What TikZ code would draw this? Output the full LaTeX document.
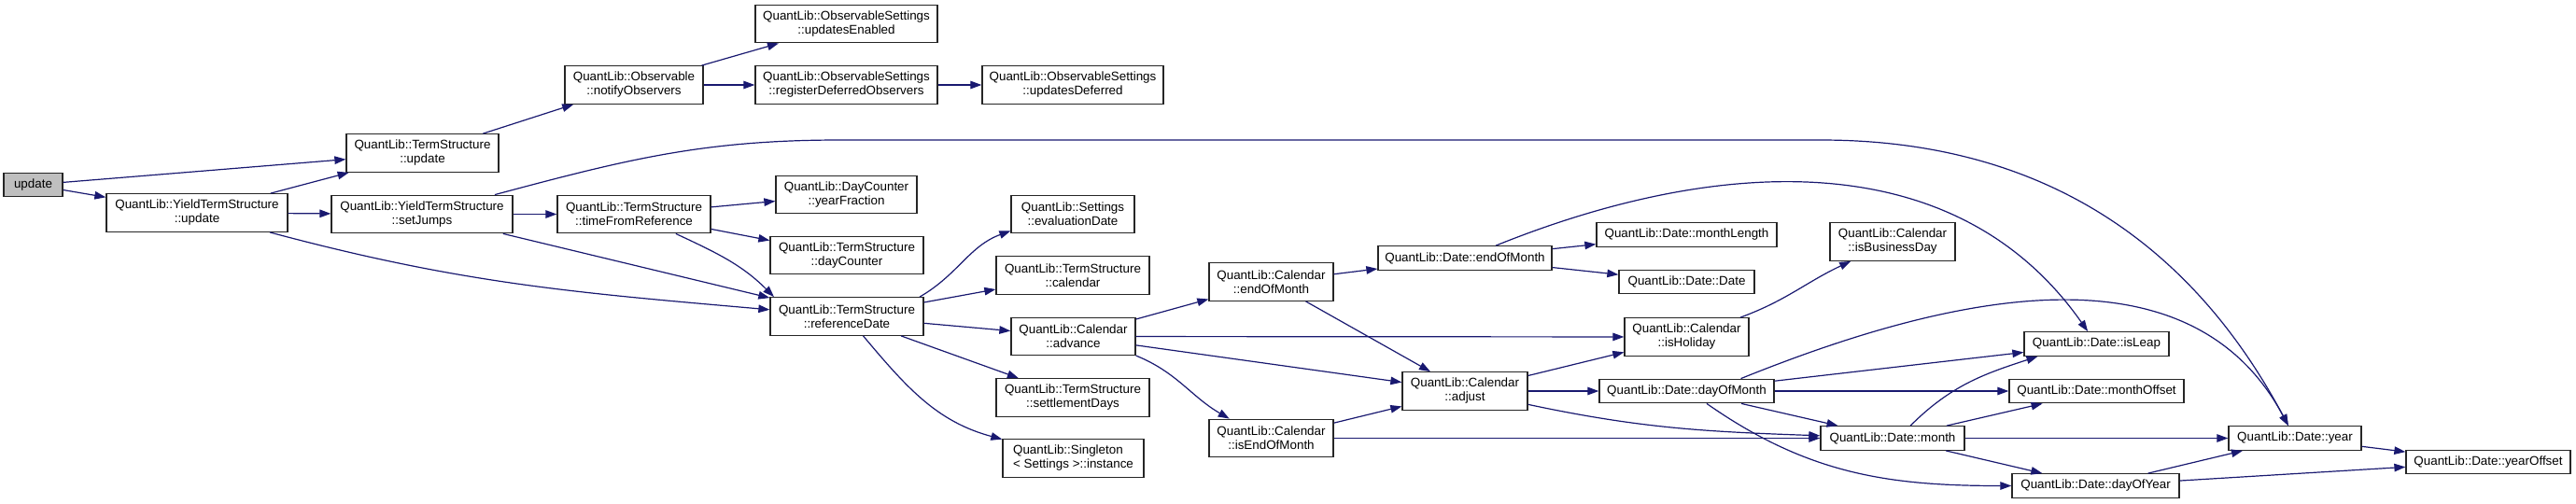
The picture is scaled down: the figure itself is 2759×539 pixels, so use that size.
\documentclass[tikz,border=0pt]{standalone}
\usepackage{fontspec}
\setmainfont{Liberation Sans}
\usetikzlibrary{arrows.meta,positioning}
\definecolor{edgeblue}{RGB}{25,25,112}
\definecolor{rootgray}{RGB}{191,191,191}

\begin{document}
\begin{tikzpicture}[x=1pt, y=1pt,
        func/.style={rectangle, draw=black!85, line width=1.3pt, fill=white, inner sep=0pt, minimum height=40.5pt, align=center, font=\fontsize{13.4pt}{15pt}\selectfont},
        func1/.style={func, minimum height=25.5pt},
        root/.style={func1, fill=rootgray},
        call/.style={draw=edgeblue, line width=1.2pt, -{Triangle[length=12pt,width=8.5pt]}}
    ]
        \useasboundingbox (0,0) rectangle (2759,-539);

        % Caller
        \node[root, minimum width=63] (update) at (35.5,-198) {update};

        % Term structure
        \node[func, minimum width=163] (tsupdate) at (452.5,-164) {QuantLib::TermStructure\\::update};
        \node[func, minimum width=194] (ytsupdate) at (211,-228) {QuantLib::YieldTermStructure\\::update};
        \node[func, minimum width=194] (setjumps) at (452,-229.5) {QuantLib::YieldTermStructure\\::setJumps};
        \node[func, minimum width=164] (timefromref) at (679,-229.5) {QuantLib::TermStructure\\::timeFromReference};

        % Observables
        \node[func, minimum width=148] (notify) at (679,-91) {QuantLib::Observable\\::notifyObservers};
        \node[func, minimum width=195] (updenabled) at (906.5,-25.5) {QuantLib::ObservableSettings\\::updatesEnabled};
        \node[func, minimum width=195] (regdeferred) at (906.5,-91) {QuantLib::ObservableSettings\\::registerDeferredObservers};
        \node[func, minimum width=194] (upddeferred) at (1149,-91) {QuantLib::ObservableSettings\\::updatesDeferred};

        % Reference date
        \node[func, minimum width=151] (yearfrac) at (906.5,-208.5) {QuantLib::DayCounter\\::yearFraction};
        \node[func, minimum width=164] (daycounter) at (907,-273.5) {QuantLib::TermStructure\\::dayCounter};
        \node[func, minimum width=164] (refdate) at (907,-339) {QuantLib::TermStructure\\::referenceDate};
        \node[func, minimum width=132] (evaldate) at (1149,-229.5) {QuantLib::Settings\\::evaluationDate};
        \node[func, minimum width=164] (tscalendar) at (1149,-295) {QuantLib::TermStructure\\::calendar};
        \node[func, minimum width=133] (advance) at (1149.5,-360.5) {QuantLib::Calendar\\::advance};
        \node[func, minimum width=164] (settledays) at (1149,-426) {QuantLib::TermStructure\\::settlementDays};
        \node[func, minimum width=151, align=left] (singleton) at (1149.5,-491) {QuantLib::Singleton\\< Settings >::instance};

        % Calendar
        \node[func, minimum width=133] (calendofmonth) at (1361.5,-302) {QuantLib::Calendar\\::endOfMonth};
        \node[func, minimum width=133] (iseom) at (1361.5,-469.5) {QuantLib::Calendar\\::isEndOfMonth};
        \node[func, minimum width=134] (adjust) at (1569,-419) {QuantLib::Calendar\\::adjust};
        \node[func, minimum width=133] (isholiday) at (1806.5,-361) {QuantLib::Calendar\\::isHoliday};
        \node[func, minimum width=134] (isbusday) at (2027,-259) {QuantLib::Calendar\\::isBusinessDay};

        % Date
        \node[func1, minimum width=186] (dateeom) at (1569,-276.5) {QuantLib::Date::endOfMonth};
        \node[func1, minimum width=193] (monthlength) at (1806.5,-251.5) {QuantLib::Date::monthLength};
        \node[func1, minimum width=145] (datedate) at (1806.5,-302) {QuantLib::Date::Date};
        \node[func1, minimum width=187] (dayofmonth) at (1806.5,-419) {QuantLib::Date::dayOfMonth};
        \node[func1, minimum width=154] (month) at (2027,-469.5) {QuantLib::Date::month};
        \node[func1, minimum width=155] (isleap) at (2245.5,-368.5) {QuantLib::Date::isLeap};
        \node[func1, minimum width=187] (monthoffset) at (2245.5,-419) {QuantLib::Date::monthOffset};
        \node[func1, minimum width=179] (dayofyear) at (2244.5,-520.5) {QuantLib::Date::dayOfYear};
        \node[func1, minimum width=142] (year) at (2458,-469.5) {QuantLib::Date::year};
        \node[func1, minimum width=176] (yearoffset) at (2665,-495) {QuantLib::Date::yearOffset};

        % Calls
        \draw[call] (update) -- (tsupdate);
        \draw[call] (update) -- (ytsupdate);
        \draw[call] (ytsupdate) -- (tsupdate);
        \draw[call] (ytsupdate) -- (setjumps);
        \draw[call] (ytsupdate) to[out=-15,in=175] (refdate);
        \draw[call] (tsupdate) -- (notify);
        \draw[call] (notify) -- (updenabled);
        \draw[call] (notify) -- (regdeferred);
        \draw[call] (regdeferred) -- (upddeferred);
        \draw[call] (setjumps) -- (timefromref);
        \draw[call] (setjumps) -- (refdate);
        \draw[call] (setjumps) to[out=15,in=180] (900,-150) -- (1950,-150) to[out=0,in=118] (year.118);
        \draw[call] (timefromref) -- (yearfrac);
        \draw[call] (timefromref) -- (daycounter);
        \draw[call] (timefromref.-25) to[out=-25,in=135] (refdate.165);
        \draw[call] (refdate.15) to[out=30,in=200] (evaldate.195);
        \draw[call] (refdate) -- (tscalendar);
        \draw[call] (refdate) -- (advance);
        \draw[call] (refdate) -- (settledays);
        \draw[call] (refdate) to[out=-50,in=165] (singleton);
        \draw[call] (advance) -- (calendofmonth);
        \draw[call] (advance) -- (isholiday);
        \draw[call] (advance) -- (adjust);
        \draw[call] (advance.-17) to[out=-22,in=150] (iseom.155);
        \draw[call] (calendofmonth) -- (dateeom);
        \draw[call] (calendofmonth) -- (adjust);
        \draw[call] (dateeom) -- (monthlength);
        \draw[call] (dateeom) -- (datedate);
        \draw[call] (dateeom) to[out=22,in=125] (isleap);
        \draw[call] (iseom) -- (adjust);
        \draw[call] (iseom) -- (month);
        \draw[call] (adjust) -- (isholiday);
        \draw[call] (adjust) -- (dayofmonth);
        \draw[call] (adjust) to[out=-12,in=178] (month);
        \draw[call] (isholiday) to[out=20,in=-155] (isbusday);
        \draw[call] (dayofmonth.13) to[out=22,in=118] (year.118);
        \draw[call] (dayofmonth) -- (isleap);
        \draw[call] (dayofmonth) -- (monthoffset);
        \draw[call] (dayofmonth) -- (month);
        \draw[call] (dayofmonth.-32) to[out=-35,in=180] (dayofyear);
        \draw[call] (month.35) to[out=45,in=198] (isleap.192);
        \draw[call] (month) -- (monthoffset);
        \draw[call] (month) -- (year);
        \draw[call] (month) -- (dayofyear);
        \draw[call] (dayofyear) -- (year);
        \draw[call] (dayofyear) -- (yearoffset);
        \draw[call] (year) -- (yearoffset);

    \end{tikzpicture}
\end{document}
